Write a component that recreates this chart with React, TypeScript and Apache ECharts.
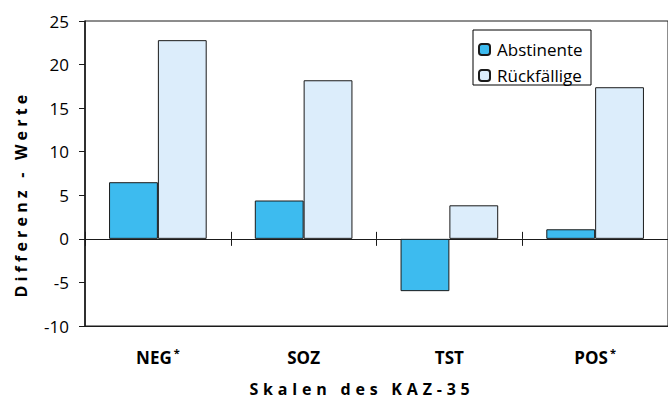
import React, { useEffect, useRef } from "react";
import * as echarts from "echarts";

const categories = ["NEG", "SOZ", "TST", "POS"];
const significant = [true, false, false, true];
const seriesNames = ["Abstinente", "Rückfällige"];
const abstinente = [6.5, 4.4, -6.0, 1.1];
const rueckfaellige = [22.8, 18.2, 3.85, 17.4];
const yMin = -10;
const yMax = 25;
const yInterval = 5;
const yAxisTitle = "Differenz - Werte";
const xAxisTitle = "Skalen des KAZ-35";

const FONT = "'Open Sans', 'Noto Sans', sans-serif";
const INK = "#1a1a1a";

export default function App() {
  const ref = useRef<HTMLDivElement>(null);

  useEffect(() => {
    if (!ref.current) return;
    const chart = echarts.init(ref.current, null, { renderer: "svg" });

    const catLabel = (value: string, index: number) =>
      significant[index] ? `{b|${value}}{s|*}` : `{b|${value}}`;

    const zeroAxis = (position: "top" | "bottom") => ({
      type: "category",
      data: categories,
      position,
      boundaryGap: true,
      axisLine: { show: true, onZero: true, onZeroAxisIndex: 0, lineStyle: { color: INK, width: 1 } },
      axisTick: { show: true, length: 7, lineStyle: { color: INK, width: 1 } },
      axisLabel: { show: false },
      splitLine: { show: false },
    });

    chart.setOption({
      animation: false,
      backgroundColor: "#ffffff",
      textStyle: { fontFamily: FONT },
      grid: {
        left: 85,
        right: -1,
        top: 21,
        bottom: 77,
        show: true,
        borderColor: INK,
        borderWidth: 1,
        backgroundColor: "transparent",
      },
      legend: {
        data: seriesNames,
        orient: "vertical",
        left: 473,
        top: 30,
        padding: [11, 4, 1, 5],
        itemWidth: 11,
        itemHeight: 11,
        itemGap: 9,
        borderColor: "#000",
        borderWidth: 1,
        backgroundColor: "#fff",
        textStyle: {
          fontFamily: FONT,
          fontSize: 17,
          lineHeight: 17,
          color: "#000",
          width: 90,
          padding: [0, 0, 0, 2],
        },
      },
      xAxis: [
        {
          type: "category",
          data: categories,
          position: "bottom",
          boundaryGap: true,
          axisLine: { show: true, onZero: false, lineStyle: { color: INK, width: 1 } },
          axisTick: { show: false },
          axisLabel: {
            margin: 21,
            formatter: catLabel,
            rich: {
              b: { fontFamily: FONT, fontSize: 17, fontWeight: "bold", color: "#000", lineHeight: 21 },
              s: { fontFamily: FONT, fontSize: 11, fontWeight: "bold", color: "#000", verticalAlign: "top", lineHeight: 21, padding: [0, 0, 0, 2] },
            },
          },
          splitLine: { show: false },
        },
        zeroAxis("bottom"),
        zeroAxis("top"),
      ],
      yAxis: {
        type: "value",
        min: yMin,
        max: yMax,
        interval: yInterval,
        axisLine: { show: true, lineStyle: { color: INK, width: 1.6 } },
        axisTick: { show: true, length: 6, lineStyle: { color: INK, width: 1 } },
        axisLabel: { fontFamily: FONT, fontSize: 17, color: "#000", margin: 16 },
        splitLine: { show: false },
      },
      series: [
        {
          name: seriesNames[0],
          type: "bar",
          xAxisIndex: 0,
          data: abstinente,
          barGap: "0%",
          barCategoryGap: "33%",
          itemStyle: { color: "#3dbbef", borderColor: INK, borderWidth: 1 },
        },
        {
          name: seriesNames[1],
          type: "bar",
          xAxisIndex: 0,
          data: rueckfaellige,
          barGap: "0%",
          barCategoryGap: "33%",
          itemStyle: { color: "#dcedfb", borderColor: INK, borderWidth: 1 },
        },
      ],
      graphic: [
        {
          type: "text",
          x: 21,
          y: 194,
          rotation: Math.PI / 2,
          style: {
            text: yAxisTitle,
            fontFamily: FONT,
            fontSize: 16,
            fontWeight: "bold",
            fill: "#000",
            align: "center",
            verticalAlign: "middle",
          },
        },
        {
          type: "text",
          x: 362,
          y: 389,
          style: {
            text: xAxisTitle,
            fontFamily: FONT,
            fontSize: 16,
            fontWeight: "bold",
            fill: "#000",
            align: "center",
            verticalAlign: "middle",
          },
        },
      ],
    });

    const spaced: Record<string, string> = {
      [yAxisTitle]: "4.2",
      [xAxisTitle]: "4.8",
    };
    ref.current.querySelectorAll("text, tspan").forEach((t) => {
      const s = spaced[(t.textContent || "").trim()];
      if (s) {
        t.setAttribute("letter-spacing", s);
        (t as SVGElement).style.letterSpacing = s + "px";
      }
    });

    return () => chart.dispose();
  }, []);

  return (
    <div
      ref={ref}
      style={{ position: "fixed", left: 0, top: 0, width: 668, height: 403, background: "#fff" }}
    />
  );
}
